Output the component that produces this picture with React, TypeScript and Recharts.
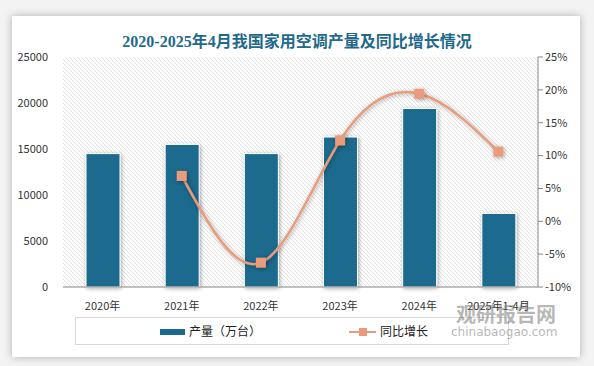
import { ComposedChart, Bar, Line, XAxis, YAxis, CartesianGrid } from 'recharts';

const categories = ['2020年', '2021年', '2022年', '2023年', '2024年', '2025年1-4月'];
const output = [14500, 15500, 14500, 16300, 19400, 8000];
const growth: (number | null)[] = [null, 6.9, -6.3, 12.3, 19.4, 10.6];
const leftTicks = [0, 5000, 10000, 15000, 20000, 25000];
const rightTicks = [-10, -5, 0, 5, 10, 15, 20, 25];

const data = categories.map((name, i) => ({ name, output: output[i], growth: growth[i] }));

const BAR_COLOR = '#1B6A8D';
const LINE_COLOR = '#E99B7B';
const tickStyle = { fontSize: 11, fill: '#333', fontFamily: '"Noto Sans CJK SC", "Open Sans", sans-serif' };

// square marker for the growth line
const SquareDot = (props: any) => {
  const { cx, cy, value } = props;
  if (value == null || cx == null || cy == null) return null;
  return <rect x={cx - 5} y={cy - 5} width={10} height={10} fill={LINE_COLOR} filter="url(#shadow)" />;
};

export default function App() {
  return (
    <div style={{ position: 'absolute', left: 0, top: 0, width: 594, height: 366, background: '#f3f3f3', overflow: 'hidden' }}>
      <div
        style={{
          position: 'absolute', left: 12, top: 16, width: 568, height: 341,
          background: '#fff', boxShadow: '0 0 8px rgba(0,0,0,0.28)',
        }}
      />
      <div
        style={{
          position: 'absolute', left: 0, top: 28, width: 594, textAlign: 'center',
          fontFamily: '"Liberation Serif", "Noto Sans CJK SC", serif', fontWeight: 'bold',
          fontSize: 16, color: '#1F6A8C',
        }}
      >
        2020-2025年4月我国家用空调产量及同比增长情况
      </div>
      <div style={{ position: 'absolute', left: 0, top: 0 }}>
        <ComposedChart width={594} height={366} data={data} margin={{ top: 57, right: 6, left: 8, bottom: 49 }} barSize={34}>
          <defs>
            <pattern id="hatch" width="4" height="4" patternUnits="userSpaceOnUse">
              <rect width="4" height="4" fill="#fff" />
              <path d="M-1,-1 l6,6 M-1,3 l2,2 M3,-1 l2,2" stroke="#e2e2e2" strokeWidth="1" />
            </pattern>
            <filter id="shadow" x="-50%" y="-50%" width="200%" height="200%">
              <feDropShadow dx="1" dy="1" stdDeviation="2" floodColor="#000" floodOpacity="0.35" />
            </filter>
          </defs>
          <CartesianGrid horizontal={false} vertical={false} fill="url(#hatch)" />
          <XAxis
            dataKey="name"
            tick={tickStyle}
            tickLine={false}
            axisLine={{ stroke: '#888' }}
            height={30}
            tickMargin={9}
            interval={0}
          />
          <YAxis
            yAxisId="left"
            domain={[0, 25000]}
            ticks={leftTicks}
            tick={tickStyle}
            axisLine={false}
            tickLine={false}
            width={55}
            tickMargin={9}
          />
          <YAxis
            yAxisId="right"
            orientation="right"
            domain={[-10, 25]}
            ticks={rightTicks}
            tickFormatter={(v) => `${v}%`}
            tick={tickStyle}
            axisLine={{ stroke: '#888' }}
            tickLine={{ stroke: '#888' }}
            tickSize={5}
            width={50}
          />
          <Bar
            yAxisId="left"
            dataKey="output"
            fill={BAR_COLOR}
            stroke="#fff"
            strokeWidth={1}
            filter="url(#shadow)"
            isAnimationActive={false}
          />
          <Line
            yAxisId="right"
            type="natural"
            dataKey="growth"
            stroke={LINE_COLOR}
            strokeWidth={2.5}
            dot={<SquareDot />}
            activeDot={false}
            connectNulls
            filter="url(#shadow)"
            isAnimationActive={false}
          />
        </ComposedChart>
      </div>
      {/* legend */}
      <div
        style={{
          position: 'absolute', left: 75, top: 317, width: 434, height: 28,
          border: '1px solid #d9d9d9', boxSizing: 'border-box', background: '#fff',
          fontFamily: '"Noto Sans CJK SC", sans-serif', fontSize: 12, color: '#222',
        }}
      >
        <div style={{ position: 'absolute', left: 84, top: 11, width: 25, height: 6, background: BAR_COLOR }} />
        <div style={{ position: 'absolute', left: 113, top: 5, lineHeight: '16px' }}>产量（万台）</div>
        <div style={{ position: 'absolute', left: 273, top: 13, width: 27, height: 2, background: LINE_COLOR }} />
        <div style={{ position: 'absolute', left: 283, top: 10, width: 8, height: 8, background: LINE_COLOR }} />
        <div style={{ position: 'absolute', left: 304, top: 5, lineHeight: '16px' }}>同比增长</div>
      </div>
      {/* watermark */}
      <div
        style={{
          position: 'absolute', left: 456, top: 304, color: 'rgba(120,120,120,0.55)',
          fontFamily: '"Noto Sans CJK SC", sans-serif', lineHeight: 1, fontSize: 20, fontWeight: 'bold',
        }}
      >
        观研报告网
      </div>
      <div
        style={{
          position: 'absolute', left: 451, top: 326, color: 'rgba(120,120,120,0.55)',
          fontFamily: '"DejaVu Sans", sans-serif', lineHeight: 1, fontSize: 12,
        }}
      >
        chinabaogao.com
      </div>
    </div>
  );
}
